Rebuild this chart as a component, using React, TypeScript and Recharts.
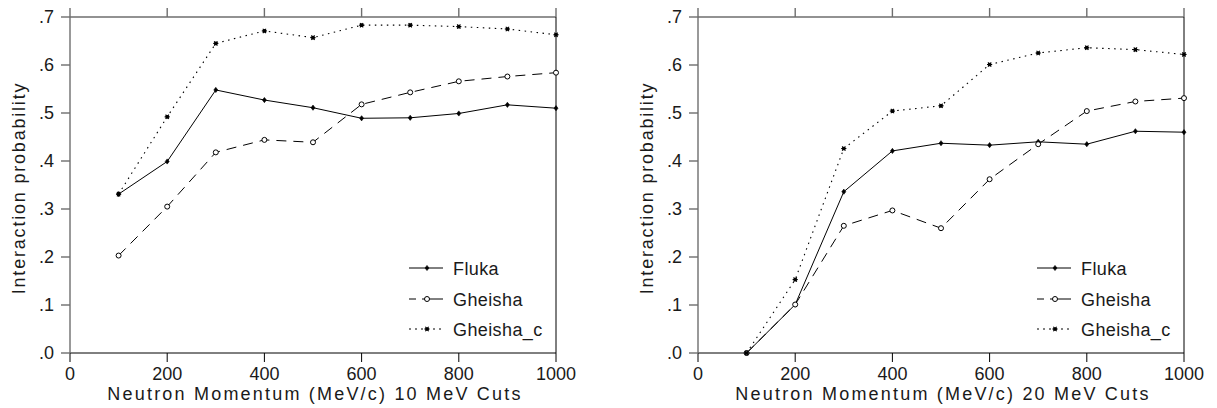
import React from 'react';
import { LineChart, Line, XAxis, YAxis, Label } from 'recharts';

const momentum = [100, 200, 300, 400, 500, 600, 700, 800, 900, 1000];

const fluka10 = [0.331, 0.399, 0.548, 0.527, 0.511, 0.489, 0.49, 0.499, 0.517, 0.51];
const gheisha10 = [0.203, 0.305, 0.418, 0.444, 0.439, 0.518, 0.543, 0.566, 0.576, 0.584];
const gheishaC10 = [0.331, 0.492, 0.645, 0.671, 0.657, 0.683, 0.683, 0.68, 0.675, 0.663];

const fluka20 = [0.0, 0.101, 0.336, 0.421, 0.437, 0.433, 0.44, 0.435, 0.462, 0.46];
const gheisha20 = [0.0, 0.101, 0.265, 0.297, 0.26, 0.362, 0.435, 0.504, 0.524, 0.531];
const gheishaC20 = [0.0, 0.153, 0.426, 0.504, 0.515, 0.601, 0.625, 0.636, 0.632, 0.622];

const xTicks = [0, 200, 400, 600, 800, 1000];
const yTicks = [0, 0.1, 0.2, 0.3, 0.4, 0.5, 0.6, 0.7];
const seriesNames = ['Fluka', 'Gheisha', 'Gheisha_c'];
const xTitles = ['Neutron Momentum (MeV/c) 10 MeV Cuts', 'Neutron Momentum (MeV/c) 20 MeV Cuts'];
const yTitle = 'Interaction probability';

const FONT = '"Liberation Sans", Arial, sans-serif';
const TEXT = '#1a1a1a';

const buildRows = (a: number[], b: number[], c: number[]) =>
  momentum.map((m, i) => ({ m, fluka: a[i], gheisha: b[i], gheishaC: c[i] }));

const Diamond = ({ cx, cy }: { cx: number; cy: number }) => (
  <polygon
    points={`${cx},${cy - 2.6} ${cx + 2},${cy} ${cx},${cy + 2.6} ${cx - 2},${cy}`}
    fill="#000"
    stroke="#000"
    strokeWidth={0.6}
  />
);

const OpenCircle = ({ cx, cy }: { cx: number; cy: number }) => (
  <circle cx={cx} cy={cy} r={2.5} fill="#fff" stroke="#000" strokeWidth={1} />
);

const Star = ({ cx, cy }: { cx: number; cy: number }) => (
  <g stroke="#000" strokeWidth={1.1}>
    <line x1={cx - 2.6} y1={cy} x2={cx + 2.6} y2={cy} />
    <line x1={cx - 1.6} y1={cy - 2.2} x2={cx + 1.6} y2={cy + 2.2} />
    <line x1={cx - 1.6} y1={cy + 2.2} x2={cx + 1.6} y2={cy - 2.2} />
    <circle cx={cx} cy={cy} r={1.3} fill="#000" />
  </g>
);

const LegendBox = () => {
  const rows = [268, 299, 329];
  const x1 = 409;
  const x2 = 443;
  const mx = 427;
  return (
    <svg
      width={608}
      height={408}
      style={{ position: 'absolute', left: 0, top: 0, pointerEvents: 'none' }}
    >
      <line x1={x1} y1={rows[0]} x2={x2} y2={rows[0]} stroke="#000" strokeWidth={1} />
      <Diamond cx={mx} cy={rows[0]} />
      <line x1={x1} y1={rows[1]} x2={x2} y2={rows[1]} stroke="#000" strokeWidth={1} strokeDasharray="7 6 100" />
      <OpenCircle cx={mx} cy={rows[1]} />
      <line x1={x1} y1={rows[2]} x2={x2} y2={rows[2]} stroke="#000" strokeWidth={1} strokeDasharray="2 4" />
      <Star cx={mx} cy={rows[2]} />
      {seriesNames.map((n, i) => (
        <text
          key={n}
          x={453}
          y={rows[i] + 6.5}
          fontFamily={FONT}
          fontSize={18}
          fill={TEXT}
          letterSpacing={0.4}
        >
          {n}
        </text>
      ))}
    </svg>
  );
};

const Panel = ({
  rows,
  xTitle,
  width,
  left,
  marginRight,
}: {
  rows: any[];
  xTitle: string;
  width: number;
  left: number;
  marginRight: number;
}) => {
  const tickStyle = { fontSize: 18, fill: TEXT, fontFamily: FONT };
  return (
    <div style={{ position: 'absolute', left, top: 0, width, height: 408 }}>
      <LineChart
        width={width}
        height={408}
        data={rows}
        margin={{ top: 8, right: marginRight, bottom: 0, left: 0 }}
      >
        <XAxis
          xAxisId="b"
          dataKey="m"
          type="number"
          domain={[0, 1000]}
          ticks={xTicks}
          orientation="bottom"
          height={55}
          tickSize={9}
          tickMargin={5}
          tick={tickStyle}
          stroke="#000"
          interval={0}
        >
          <Label
            content={(p: any) => {
              const vb = p.viewBox || { x: 70, y: 353, width: 486, height: 55 };
              return (
                <text
                  x={vb.x + vb.width / 2 + 2}
                  y={vb.y + 47}
                  textAnchor="middle"
                  fontFamily={FONT}
                  fontSize={18}
                  fill={TEXT}
                  letterSpacing={2.2}
                >
                  {xTitle}
                </text>
              );
            }}
          />
        </XAxis>
        <XAxis
          xAxisId="t"
          dataKey="m"
          type="number"
          domain={[0, 1000]}
          ticks={xTicks}
          orientation="top"
          height={9}
          tickSize={9}
          tickFormatter={() => ''}
          stroke="#6e6e6e"
          strokeWidth={1.4}
          interval={0}
        />
        <YAxis
          yAxisId="l"
          type="number"
          domain={[0, 0.7]}
          ticks={yTicks}
          orientation="left"
          width={70}
          tickSize={9}
          tickMargin={7}
          tick={tickStyle}
          tickFormatter={(v: number) => '.' + Math.round(v * 10)}
          stroke="#6e6e6e"
          strokeWidth={1.4}
          interval={0}
        >
          <Label
            content={(p: any) => {
              const vb = p.viewBox || { x: 0, y: 17, width: 70, height: 336 };
              const cx = 25;
              const cy = vb.y + vb.height / 2 + 3;
              return (
                <text
                  x={cx}
                  y={cy}
                  transform={`rotate(-90, ${cx}, ${cy})`}
                  textAnchor="middle"
                  fontFamily={FONT}
                  fontSize={18}
                  fill={TEXT}
                  letterSpacing={1.8}
                >
                  {yTitle}
                </text>
              );
            }}
          />
        </YAxis>
        <YAxis
          yAxisId="r"
          type="number"
          domain={[0, 0.7]}
          ticks={yTicks}
          orientation="right"
          width={10}
          tickSize={10}
          tickFormatter={() => ''}
          stroke="#000"
          interval={0}
        />
        <Line
          xAxisId="b"
          yAxisId="l"
          type="linear"
          dataKey="fluka"
          name={seriesNames[0]}
          stroke="#000"
          strokeWidth={1}
          isAnimationActive={false}
          dot={(p: any) => <Diamond key={'f' + p.index} cx={p.cx} cy={p.cy} />}
          activeDot={false}
        />
        <Line
          xAxisId="b"
          yAxisId="l"
          type="linear"
          dataKey="gheisha"
          name={seriesNames[1]}
          stroke="#000"
          strokeWidth={1}
          strokeDasharray="10 7"
          isAnimationActive={false}
          dot={(p: any) => <OpenCircle key={'g' + p.index} cx={p.cx} cy={p.cy} />}
          activeDot={false}
        />
        <Line
          xAxisId="b"
          yAxisId="l"
          type="linear"
          dataKey="gheishaC"
          name={seriesNames[2]}
          stroke="#000"
          strokeWidth={1.1}
          strokeDasharray="1.5 4.5"
          isAnimationActive={false}
          dot={(p: any) => <Star key={'c' + p.index} cx={p.cx} cy={p.cy} />}
          activeDot={false}
        />
      </LineChart>
      <LegendBox />
    </div>
  );
};

export default function App() {
  const rows10 = buildRows(fluka10, gheisha10, gheishaC10);
  const rows20 = buildRows(fluka20, gheisha20, gheishaC20);
  return (
    <div
      style={{
        position: 'absolute',
        left: 0,
        top: 0,
        width: 1217,
        height: 408,
        background: '#fff',
        overflow: 'hidden',
        fontFamily: FONT,
      }}
    >
      <Panel rows={rows10} xTitle={xTitles[0]} width={608} left={0} marginRight={42} />
      <Panel rows={rows20} xTitle={xTitles[1]} width={589} left={628} marginRight={23} />
    </div>
  );
}
